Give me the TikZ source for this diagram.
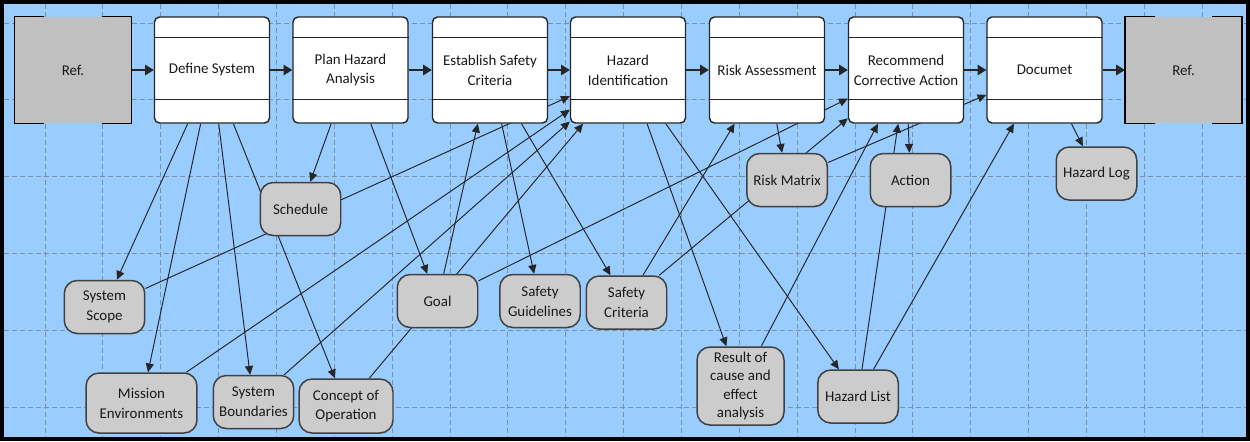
\documentclass[tikz,border=0pt]{standalone}
\usepackage{fontspec}
\setmainfont{Carlito}
\usetikzlibrary{arrows.meta,calc}
\pgfdeclarelayer{back}
\pgfdeclarelayer{links}
\pgfsetlayers{back,links,main}
\definecolor{sky}{RGB}{153,204,255}
\definecolor{gridgray}{RGB}{122,142,165}
\definecolor{itemgray}{RGB}{204,204,204}
\definecolor{refgray}{RGB}{192,192,192}

\begin{document}
\begin{tikzpicture}[x=0.02cm, y=-0.02cm,
    every node/.style={font=\fontsize{8.5}{11.3}\selectfont, text=black!90, align=center, inner sep=1pt},
    stage/.style={draw=black!85, line width=0.8pt, fill=white, rounded corners=0.1cm,
        minimum width=2.3cm, minimum height=2.12cm},
    refbox/.style={fill=refgray, minimum width=2.33cm, minimum height=2.12cm},
    item/.style={draw=black!75, line width=0.85pt, fill=itemgray, rounded corners=0.26cm,
        minimum width=1.61cm, minimum height=1.06cm},
    link/.style={draw=black!85, line width=0.55pt, -{Triangle[length=5pt,width=4.6pt]}},
    flow/.style={draw=black!85, line width=0.8pt, -{Triangle[length=5pt,width=6pt]}},
    gridline/.style={draw=gridgray, line width=0.45pt, dash pattern=on 0.1cm off 0.06cm}]

\useasboundingbox (0,0) rectangle (1250,441);

\node [refbox] (refl) at (73,70) {Ref.};
\node [refbox] (refr) at (1183.5,70) {Ref.};

\foreach \s/\x/\t in {ds/212/{Define System}, pha/350.5/{Plan Hazard\\Analysis},
    esc/490/{Establish Safety\\Criteria}, hi/628/{Hazard\\Identification},
    ra/767/{Risk Assessment}, rca/906/{Recommend\\Corrective Action},
    doc/1044.5/{Documet}}
    \node [stage] (\s) at (\x,70) {\t};

\foreach \s in {ds,pha,esc,hi,ra,rca,doc} {
    \draw [line width=0.8pt, black!85] ($(\s.north west)+(0,21)$) -- ($(\s.north east)+(0,21)$);
    \draw [line width=0.8pt, black!85] ($(\s.south west)+(0,-24)$) -- ($(\s.south east)+(0,-24)$);
}

\foreach \r in {refl,refr} {
    \draw [line width=0.8pt] ($(\r.north west)+(30,0)$) -- (\r.north west) -- (\r.south west) -- ++(30,0);
    \draw [line width=0.8pt] ($(\r.north east)+(-30,0)$) -- (\r.north east) -- (\r.south east) -- ++(-30,0);
}

\node [item] (sched)   at (300.5,209) {Schedule};
\node [item] (scope)   at (104.5,307) {System\\Scope};
\node [item, minimum width=2.22cm, minimum height=1.2cm] (mission) at (141.5,403) {Mission\\Environments};
\node [item] (bound)   at (253.5,402) {System\\Boundaries};
\node [item, minimum width=1.88cm, minimum height=1.08cm] (concept) at (346,406) {Concept of\\Operation};
\node [item] (goal)    at (437.5,301) {Goal};
\node [item] (guide)   at (540,301) {Safety\\Guidelines};
\node [item] (crit)    at (626.5,302.5) {Safety\\Criteria};
\node [item, minimum width=1.74cm, minimum height=1.56cm, inner sep=0pt,
    font=\fontsize{8.5}{10.6}\selectfont] (result) at (740.5,386) {Result of\\cause and\\effect\\analysis};
\node [item] (hlist)   at (858,396.5) {Hazard List};
\node [item] (matrix)  at (787,180) {Risk Matrix};
\node [item] (action)  at (910.5,180) {Action};
\node [item] (hlog)    at (1096.5,173.5) {Hazard Log};

\begin{pgfonlayer}{links}
\foreach \a/\b in {refl/ds, ds/pha, pha/esc, esc/hi, hi/ra, ra/rca, rca/doc, doc/refr}
    \draw [flow] (\a) -- (\b);
\foreach \a/\b in {ds/scope, ds/mission, ds/bound, ds/concept, pha/sched, pha/goal,
    esc/guide, esc/crit, goal/esc, scope/hi, mission/hi, bound/hi, concept/hi,
    hi/result, hi/hlist, crit/ra, crit/rca, ra/matrix, goal/rca, matrix/doc,
    result/rca, hlist/rca, rca/action, hlist/doc, doc/hlog}
    \draw [link] (\a) -- (\b);
\end{pgfonlayer}

\begin{pgfonlayer}{back}
\fill [sky] (0,0) rectangle (1250,441);
\foreach \i in {0,...,20}
    \draw [gridline] ({45+57.85*\i},4) -- ({45+57.85*\i},437);
\foreach \j in {0,...,5}
    \draw [gridline] (4,{23+76.8*\j}) -- (1246,{23+76.8*\j});
\draw [line width=0.08cm] (2,2) rectangle (1248,439);
\end{pgfonlayer}

\end{tikzpicture}
\end{document}
